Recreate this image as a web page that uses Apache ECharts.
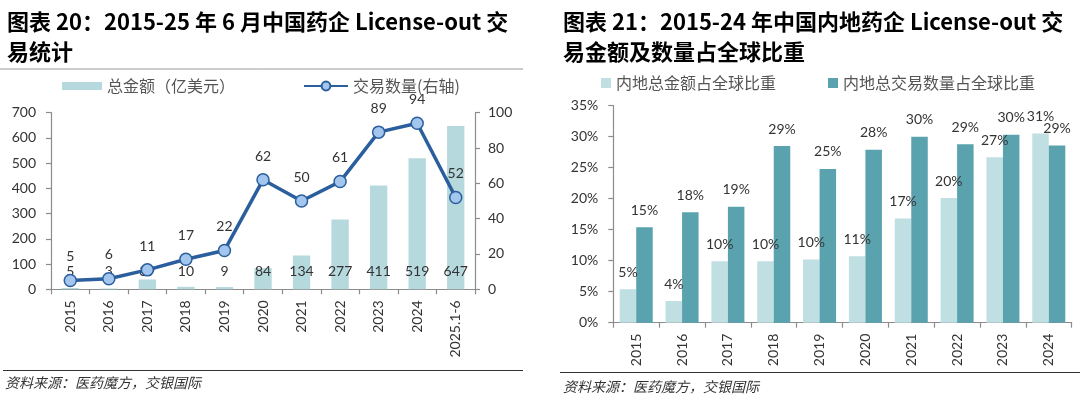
<!DOCTYPE html>
<html><head><meta charset="utf-8">
<script src="https://cdn.jsdelivr.net/npm/echarts@6/dist/echarts.min.js"></script>
<style>html,body{margin:0;padding:0;background:#fff}#c{width:1080px;height:399px}</style>
</head><body><div id="c"></div>
<script>
// ---- data ----
const leftTitle = '图表 20：2015-25 年 6 月中国药企 License-out 交\n易统计';
const rightTitle = '图表 21：2015-24 年中国内地药企 License-out 交\n易金额及数量占全球比重';
const sourceText = '资料来源：医药魔方，交银国际';
const leftCats = ['2015','2016','2017','2018','2019','2020','2021','2022','2023','2024','2025.1-6'];
const dealAmount = [5,3,39,10,9,84,134,277,411,519,647];      // 总金额（亿美元）
const dealCount = [5,6,11,17,22,62,50,61,89,94,52];           // 交易数量(右轴)
const rightCats = ['2015','2016','2017','2018','2019','2020','2021','2022','2023','2024'];
const amountShare = [5.4,3.5,9.9,9.9,10.2,10.7,16.8,20.1,26.7,30.5];   // 内地总金额占全球比重 (%)
const countShare = [15.4,17.8,18.7,28.5,24.8,27.9,30.0,28.8,30.3,28.6]; // 内地总交易数量占全球比重 (%)
const leftNames = ['总金额（亿美元）','交易数量(右轴)'];
const rightNames = ['内地总金额占全球比重','内地总交易数量占全球比重'];

const NUM = 'Lato, "Liberation Sans", sans-serif';
const CJK = '"Noto Sans CJK SC", sans-serif';
const TXT = '#333';
const AX = '#8c8c8c';

const chart = echarts.init(document.getElementById('c'));
function axisBase(){
  return {
    axisLine:{show:true,lineStyle:{color:AX,width:1.2}},
    axisTick:{show:true,inside:false,length:5,lineStyle:{color:AX,width:1.2}},
    splitLine:{show:false}
  };
}
const opt = {
  animation:false,
  title:[
    {text:leftTitle,left:7,top:7,padding:0,textStyle:{fontFamily:CJK,fontSize:22,fontWeight:'bold',lineHeight:30,color:'#000'}},
    {text:rightTitle,left:563,top:7,padding:0,textStyle:{fontFamily:CJK,fontSize:22,fontWeight:'bold',lineHeight:30,color:'#000'}}
  ],
  legend:[
    {data:[leftNames[0]],left:62,top:78,padding:0,itemWidth:40,itemHeight:8,itemGap:0,icon:'rect',
     textStyle:{fontFamily:CJK,fontSize:16,color:'#555'}},
    {data:[leftNames[1]],left:303,top:78,padding:0,itemWidth:44,itemHeight:11,itemGap:0,
     textStyle:{fontFamily:CJK,fontSize:16,color:'#555'}},
    {data:[rightNames[0]],left:601,top:75,padding:0,itemWidth:10,itemHeight:10,icon:'rect',
     textStyle:{fontFamily:CJK,fontSize:16,color:'#555'}},
    {data:[rightNames[1]],left:828,top:75,padding:0,itemWidth:10,itemHeight:10,icon:'rect',
     textStyle:{fontFamily:CJK,fontSize:16,color:'#555'}}
  ],
  grid:[
    {left:51,top:112.7,width:424,height:176.6,containLabel:false},
    {left:613.3,top:105.7,width:458.4,height:217,containLabel:false}
  ],
  xAxis:[
    Object.assign(axisBase(),{type:'category',gridIndex:0,data:leftCats,
      axisLabel:{rotate:90,margin:11,fontFamily:NUM,fontSize:14,color:TXT,interval:0}}),
    Object.assign(axisBase(),{type:'category',gridIndex:1,data:rightCats,
      axisLabel:{rotate:90,margin:11,fontFamily:NUM,fontSize:14,color:TXT,interval:0}})
  ],
  yAxis:[
    Object.assign(axisBase(),{type:'value',gridIndex:0,min:0,max:700,interval:100,position:'left',
      axisLabel:{margin:15,fontFamily:NUM,fontSize:14,color:TXT}}),
    Object.assign(axisBase(),{type:'value',gridIndex:0,min:0,max:100,interval:20,position:'right',
      axisLabel:{margin:13,fontFamily:NUM,fontSize:14,color:TXT}}),
    Object.assign(axisBase(),{type:'value',gridIndex:1,min:0,max:35,interval:5,
      axisLabel:{margin:15,fontFamily:NUM,fontSize:14,color:TXT,formatter:'{value}%'}})
  ],
  series:[
    {name:leftNames[0],type:'bar',xAxisIndex:0,yAxisIndex:0,data:dealAmount,barWidth:'45%',
     itemStyle:{color:'#b6d9de'},
     label:{show:true,position:'insideBottom',distance:11,fontFamily:NUM,fontSize:14,color:TXT}},
    {name:leftNames[1],type:'line',xAxisIndex:0,yAxisIndex:1,data:dealCount,z:5,
     symbol:'circle',symbolSize:12,
     lineStyle:{color:'#2b5e9c',width:3.5},
     itemStyle:{color:'#a3c6ee',borderColor:'#2b5e9c',borderWidth:1.5},
     label:{show:true,position:'top',distance:10,fontFamily:NUM,fontSize:14,color:TXT}},
    {name:rightNames[0],type:'bar',xAxisIndex:1,yAxisIndex:2,data:amountShare,barGap:'0%',barCategoryGap:'28%',
     itemStyle:{color:'#bfdfe3'},
     label:{show:true,position:'top',distance:10,fontFamily:NUM,fontSize:14,color:TXT,
       formatter:p=>Math.round(p.value)+'%'}},
    {name:rightNames[1],type:'bar',xAxisIndex:1,yAxisIndex:2,data:countShare,barGap:'0%',barCategoryGap:'28%',
     itemStyle:{color:'#5aa2ad'},
     label:{show:true,position:'top',distance:10,fontFamily:NUM,fontSize:14,color:TXT,
       formatter:p=>Math.round(p.value)+'%'}}
  ],
  graphic:[
    {type:'line',shape:{x1:0,y1:69,x2:523,y2:69},style:{stroke:'#999',lineWidth:1}},
    {type:'line',shape:{x1:3,y1:370.5,x2:523,y2:370.5},style:{stroke:'#333',lineWidth:1}},
    {type:'line',shape:{x1:560,y1:372.5,x2:1080,y2:372.5},style:{stroke:'#333',lineWidth:1}},
    {type:'text',left:5,top:376,style:{text:sourceText,fontFamily:CJK,fontSize:14,fontStyle:'italic',fill:'#333'}},
    {type:'text',left:563,top:380,style:{text:sourceText,fontFamily:CJK,fontSize:14,fontStyle:'italic',fill:'#333'}}
  ]
};
chart.setOption(opt);
</script></body></html>
